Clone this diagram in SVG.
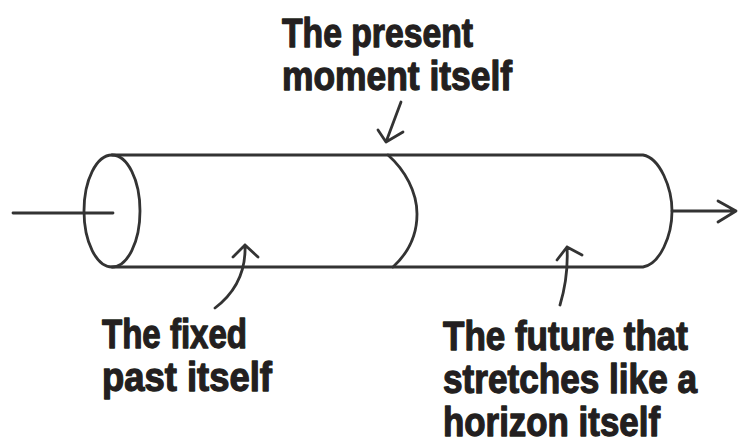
<svg xmlns="http://www.w3.org/2000/svg" width="739" height="445" viewBox="0 0 739 445">
<style>
.ln{fill:none;stroke:#333;stroke-width:2.8;stroke-linecap:round;stroke-linejoin:round}
.lb{font-family:"Liberation Sans",Arial,sans-serif;font-weight:bold;font-size:40px;fill:#231f20;stroke:#231f20;stroke-width:1.3;stroke-linejoin:round}
</style>
<rect width="739" height="445" fill="#fff"/>
<g id="cylinder">
<path class="ln" d="M112,155 L643,155 C660,158 672,188 672,211 C672,236 660,264 643,267 L112,267"/>
<ellipse class="ln" cx="112" cy="211" rx="28" ry="56"/>
<path class="ln" d="M388,155 C405,170 417,192 417,214 C417,238 405,256 393,267"/>
</g>
<g id="connectors">
<path class="ln" d="M13,213 L113,213"/>
<path class="ln" d="M672,211 L736,211 M718,201 L736,211 L718,222"/>
<path class="ln" d="M401,102 L386,142 M378,130 L386,142 L403,132"/>
<path class="ln" d="M215,308 C236,292 246,270 245,245 M233,257 L245,245 L258,257"/>
<path class="ln" d="M560,305 C566,285 568,265 567,247 M557,260 L567,247 L582,255"/>
</g>
<g id="label-present">
<text class="lb" x="282" y="47" textLength="191" lengthAdjust="spacingAndGlyphs">The present</text>
<text class="lb" x="282" y="90" textLength="230" lengthAdjust="spacingAndGlyphs">moment itself</text>
</g>
<g id="label-past">
<text class="lb" x="102" y="348" textLength="145" lengthAdjust="spacingAndGlyphs">The fixed</text>
<text class="lb" x="102" y="391" textLength="170" lengthAdjust="spacingAndGlyphs">past itself</text>
</g>
<g id="label-future">
<text class="lb" x="443" y="350" textLength="245" lengthAdjust="spacingAndGlyphs">The future that</text>
<text class="lb" x="443" y="393" textLength="254" lengthAdjust="spacingAndGlyphs">stretches like a</text>
<text class="lb" x="443" y="436" textLength="217" lengthAdjust="spacingAndGlyphs">horizon itself</text>
</g>
</svg>
